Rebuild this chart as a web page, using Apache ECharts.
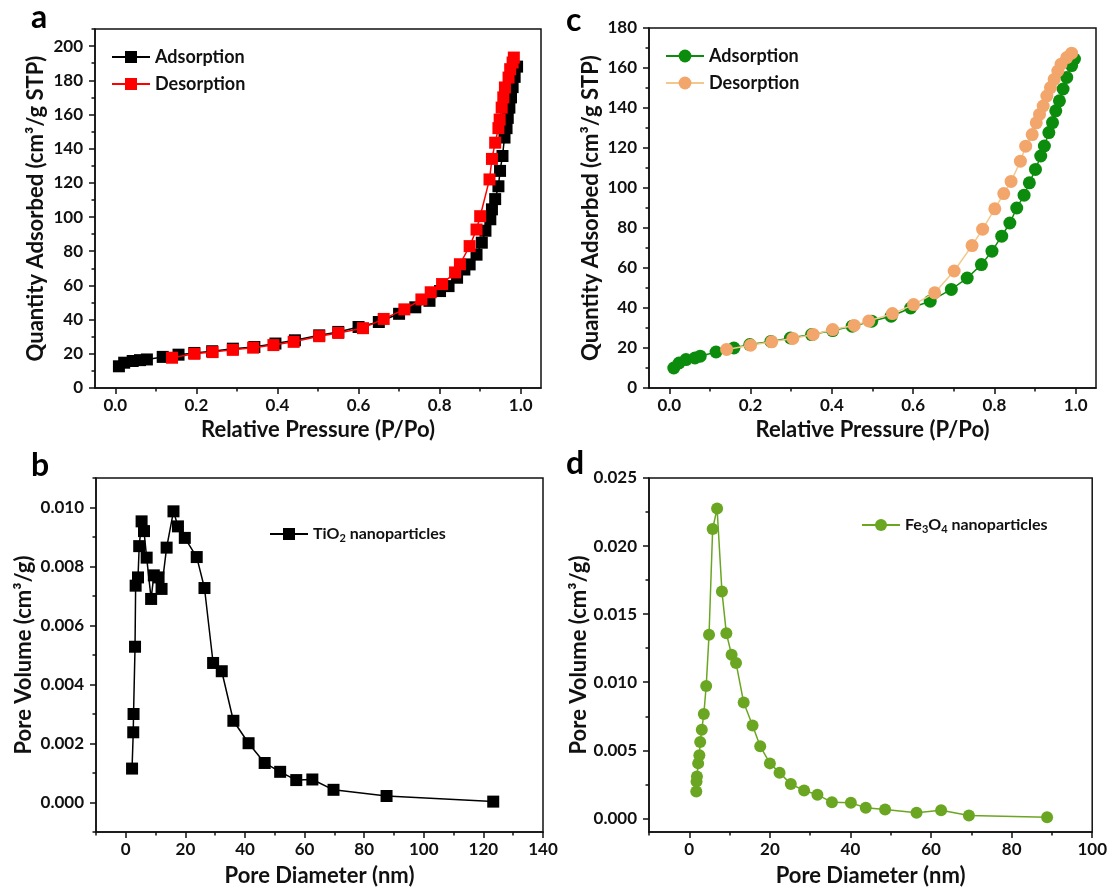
<!DOCTYPE html>
<html><head><meta charset="utf-8">
<script src="https://cdn.jsdelivr.net/npm/echarts@6/dist/echarts.min.js"></script>
<style>html,body{margin:0;padding:0;background:#fff}#c{width:1110px;height:888px}</style>
</head><body><div id="c"></div>
<script>
// ---- Panel a: TiO2 isotherm ----
const aAdsX=[0.009,0.022,0.043,0.061,0.078,0.117,0.156,0.195,0.239,0.29,0.343,0.395,0.443,0.503,0.55,0.60,0.65,0.70,0.74,0.775,0.801,0.822,0.843,0.861,0.874,0.891,0.904,0.913,0.925,0.929,0.937,0.945,0.949,0.955,0.960,0.965,0.968,0.972,0.976,0.980,0.985,0.991];
const aAdsY=[12.7,14.8,15.8,16.3,16.7,18.2,19.5,20.5,21.5,23,24,26,27.9,30.8,32.8,35.7,38.6,43.4,47.2,51,56.7,59.6,64.5,69.3,72.3,78,85,92,98.7,104.5,110.5,118,127,135.7,146.5,152,158,164,170,176,182,188];
const aDesX=[0.983,0.980,0.974,0.970,0.961,0.957,0.953,0.948,0.945,0.937,0.929,0.923,0.900,0.891,0.874,0.850,0.838,0.806,0.778,0.755,0.713,0.662,0.611,0.55,0.503,0.44,0.39,0.34,0.29,0.24,0.195,0.14];
const aDesY=[193.3,190.4,186.5,181.6,175.8,170,164,157,152,143.5,134,122,100.5,92.7,83,72.4,67.6,60.8,56,51.8,46,40.4,35,32.2,30.3,27,25.1,23.6,22.3,21,20,17.7];
// ---- Panel c: Fe3O4 isotherm ----
const cAdsX=[0.011,0.024,0.041,0.063,0.076,0.115,0.159,0.198,0.25,0.298,0.35,0.402,0.45,0.498,0.546,0.594,0.642,0.694,0.733,0.768,0.794,0.818,0.838,0.855,0.873,0.886,0.901,0.914,0.923,0.934,0.943,0.951,0.96,0.969,0.978,0.99,0.997];
const cAdsY=[10,12.5,14.2,15,15.9,18,20,21.7,23.3,25,26.7,28.7,30.9,33.4,35.9,40,43.4,49.3,55,61.7,68.4,75.9,82.5,90,96.4,102.6,109.3,116,121,127.7,132.7,138.6,143.6,149.5,155.3,161.2,164.5];
const cDesX=[0.99,0.978,0.964,0.956,0.947,0.938,0.929,0.92,0.911,0.903,0.893,0.877,0.864,0.841,0.823,0.801,0.771,0.745,0.701,0.653,0.601,0.549,0.491,0.455,0.402,0.354,0.304,0.252,0.2,0.141];
const cDesY=[167.4,165.2,161.9,158.5,154.3,150.2,146,141,136.8,132.6,126.7,120.9,113.4,103.3,97.2,89.6,79.4,71.2,58.5,47.6,41.7,37.2,33.5,31.3,29.2,26.8,24.8,23.1,21.4,19.3];
// ---- Panel b: TiO2 pore size distribution ----
const bX=[2.1,2.5,2.6,3.1,3.3,4.1,4.5,5.3,6.1,7.0,8.5,9.4,11.0,12.0,13.7,16.0,17.5,19.8,23.8,26.4,29.3,32.2,36.1,41.2,46.6,51.8,57.2,62.6,69.7,87.5,123.3];
const bY=[0.00115,0.00238,0.0030,0.00528,0.00735,0.00763,0.00869,0.00953,0.0092,0.0083,0.0069,0.0077,0.00763,0.00724,0.00864,0.00987,0.00936,0.00897,0.00832,0.00727,0.00473,0.00445,0.00277,0.00201,0.00134,0.00104,0.00076,0.00078,0.00043,0.00022,0.00003];
// ---- Panel d: Fe3O4 pore size distribution ----
const dX=[1.74,1.8,1.9,2.2,2.5,2.7,3.1,3.6,4.2,4.9,5.8,6.9,8.1,9.2,10.5,11.6,13.5,15.7,17.6,20.0,22.4,25.2,28.5,31.8,35.4,40.1,43.8,48.6,56.4,62.5,69.4,88.8];
const dY=[0.00198,0.0027,0.00307,0.00404,0.00464,0.00561,0.00651,0.00767,0.00972,0.01348,0.02126,0.02276,0.01667,0.01359,0.01202,0.01142,0.00851,0.00682,0.0053,0.00404,0.00336,0.00252,0.00205,0.00174,0.00118,0.00114,0.00078,0.00065,0.00041,0.0006,0.00022,0.00009];
// ---- Tick values ----
const pTicks=[0,0.2,0.4,0.6,0.8,1.0];
const pMinor=[0.1,0.3,0.5,0.7,0.9];
const aYTicks=[0,20,40,60,80,100,120,140,160,180,200];
const aYMinor=[10,30,50,70,90,110,130,150,170,190,210];
const cYTicks=[0,20,40,60,80,100,120,140,160,180];
const cYMinor=[10,30,50,70,90,110,130,150,170];
const bXTicks=[0,20,40,60,80,100,120,140];
const bXMinor=[-10,10,30,50,70,90,110,130];
const bYTicks=[0,0.002,0.004,0.006,0.008,0.010];
const bYMinor=[-0.001,0.001,0.003,0.005,0.007,0.009,0.011];
const dXTicks=[0,20,40,60,80,100];
const dXMinor=[-10,10,30,50,70,90];
const dYTicks=[0,0.005,0.010,0.015,0.020,0.025];
const dYMinor=[0.0025,0.0075,0.0125,0.0175,0.0225];

const FONT='Lato';
const INK='#111';
const zip=(xs,ys)=>xs.map((x,i)=>[x,ys[i]]);

const grids=[
  {left:95,top:29,width:446,height:359},
  {left:649,top:28,width:447,height:360},
  {left:96,top:478,width:447,height:358},
  {left:649,top:478,width:446,height:358}
].map(g=>Object.assign(g,{show:true,borderColor:INK,borderWidth:1.5,backgroundColor:'transparent'}));

function mainAxis(g,pos,min,max,ticks,fmt,name,gap){
  return {type:'value',gridIndex:g,position:pos,min:min,max:max,
    axisLine:{show:true,onZero:false,lineStyle:{color:INK,width:1.5}},
    axisTick:{show:true,inside:false,length:6,customValues:ticks,lineStyle:{color:INK,width:1.5}},
    axisLabel:{show:true,customValues:ticks,formatter:fmt,fontFamily:FONT,fontWeight:'bold',fontSize:17,color:INK,margin:pos==='left'?12:9},
    splitLine:{show:false},
    name:name,nameLocation:'middle',nameGap:gap,
    nameTextStyle:{fontFamily:FONT,fontWeight:'bold',fontSize:22,color:INK}};
}
function minorAxis(g,pos,min,max,ticks){
  return {type:'value',gridIndex:g,position:pos,min:min,max:max,
    axisLine:{show:false,onZero:false},
    axisTick:{show:true,inside:false,length:3.5,customValues:ticks,lineStyle:{color:INK,width:1.5}},
    axisLabel:{show:false},splitLine:{show:false}};
}
const f1=v=>v.toFixed(1), f0=v=>String(Math.round(v)), f3=v=>v.toFixed(3);

const xAxis=[
  mainAxis(0,'bottom',-0.05,1.05,pTicks,f1,'Relative Pressure (P/Po)',31), minorAxis(0,'bottom',-0.05,1.05,pMinor),
  mainAxis(1,'bottom',-0.05,1.05,pTicks,f1,'Relative Pressure (P/Po)',31), minorAxis(1,'bottom',-0.05,1.05,pMinor),
  mainAxis(2,'bottom',-10,140,bXTicks,f0,'Pore Diameter (nm)',33), minorAxis(2,'bottom',-10,140,bXMinor),
  mainAxis(3,'bottom',-10,100,dXTicks,f0,'Pore Diameter (nm)',33), minorAxis(3,'bottom',-10,100,dXMinor)
];
const yAxis=[
  mainAxis(0,'left',0,210,aYTicks,f0,'Quantity Adsorbed (cm³/g STP)',48), minorAxis(0,'left',0,210,aYMinor),
  mainAxis(1,'left',0,180,cYTicks,f0,'Quantity Adsorbed (cm³/g STP)',47), minorAxis(1,'left',0,180,cYMinor),
  mainAxis(2,'left',-0.001,0.011,bYTicks,f3,'Pore Volume (cm³/g)',61), minorAxis(2,'left',-0.001,0.011,bYMinor),
  mainAxis(3,'left',-0.001,0.025,dYTicks,f3,'Pore Volume (cm³/g)',59), minorAxis(3,'left',-0.001,0.025,dYMinor)
];

function ser(g,name,xs,ys,symbol,size,color,lineColor,z){
  return {type:'line',name:name,xAxisIndex:2*g,yAxisIndex:2*g,data:zip(xs,ys),
    symbol:symbol,symbolSize:size,showSymbol:true,z:z,
    itemStyle:{color:color,opacity:1},lineStyle:{color:lineColor||color,width:1.5},
    emphasis:{disabled:true},animation:false};
}
const series=[
  ser(0,'a:Adsorption',aAdsX,aAdsY,'rect',12,'#000000',null,2),
  ser(0,'a:Desorption',aDesX,aDesY,'rect',12,'#FF0000',null,3),
  ser(1,'c:Adsorption',cAdsX,cAdsY,'circle',13,'#0C8C0C',null,2),
  ser(1,'c:Desorption',cDesX,cDesY,'circle',13,'#F2A66B','#F3C98B',3),
  ser(2,'b:TiO2',bX,bY,'rect',12,'#000000',null,2),
  ser(3,'d:Fe3O4',dX,dY,'circle',12,'#6AA622',null,2)
];

const legText={fontFamily:FONT,fontWeight:'bold',fontSize:18,color:INK};
const subRich={
  n:{fontFamily:FONT,fontWeight:'bold',fontSize:16,color:INK},
  s:{fontFamily:FONT,fontWeight:'bold',fontSize:11,color:INK,padding:[8,0,0,0]}
};
const legend=[
  {left:106,top:43,orient:'vertical',itemWidth:38,itemHeight:15,itemGap:9,selectedMode:false,
   data:['a:Adsorption','a:Desorption'],formatter:n=>n.split(':')[1],textStyle:legText},
  {left:660,top:42,orient:'vertical',itemWidth:38,itemHeight:16,itemGap:9,selectedMode:false,
   data:['c:Adsorption','c:Desorption'],formatter:n=>n.split(':')[1],textStyle:legText},
  {left:264,top:521,itemWidth:38,itemHeight:15,selectedMode:false,data:['b:TiO2'],
   formatter:()=>'{n|TiO}{s|2}{n| nanoparticles}',textStyle:{rich:subRich}},
  {left:856,top:512,itemWidth:38,itemHeight:15,selectedMode:false,data:['d:Fe3O4'],
   formatter:()=>'{n|Fe}{s|3}{n|O}{s|4}{n| nanoparticles}',textStyle:{rich:subRich}}
];

const letter=(t,x,y)=>({type:'text',left:x,top:y,style:{text:t,font:'bold 32px Lato',fill:'#000'}});
const chart=echarts.init(document.getElementById('c'),null,{renderer:'canvas'});
chart.setOption({
  animation:false,backgroundColor:'#ffffff',
  grid:grids,xAxis:xAxis,yAxis:yAxis,series:series,legend:legend,
  graphic:[letter('a',31,2),letter('c',566,5),letter('b',31,450),letter('d',566,448)]
});
</script></body></html>
